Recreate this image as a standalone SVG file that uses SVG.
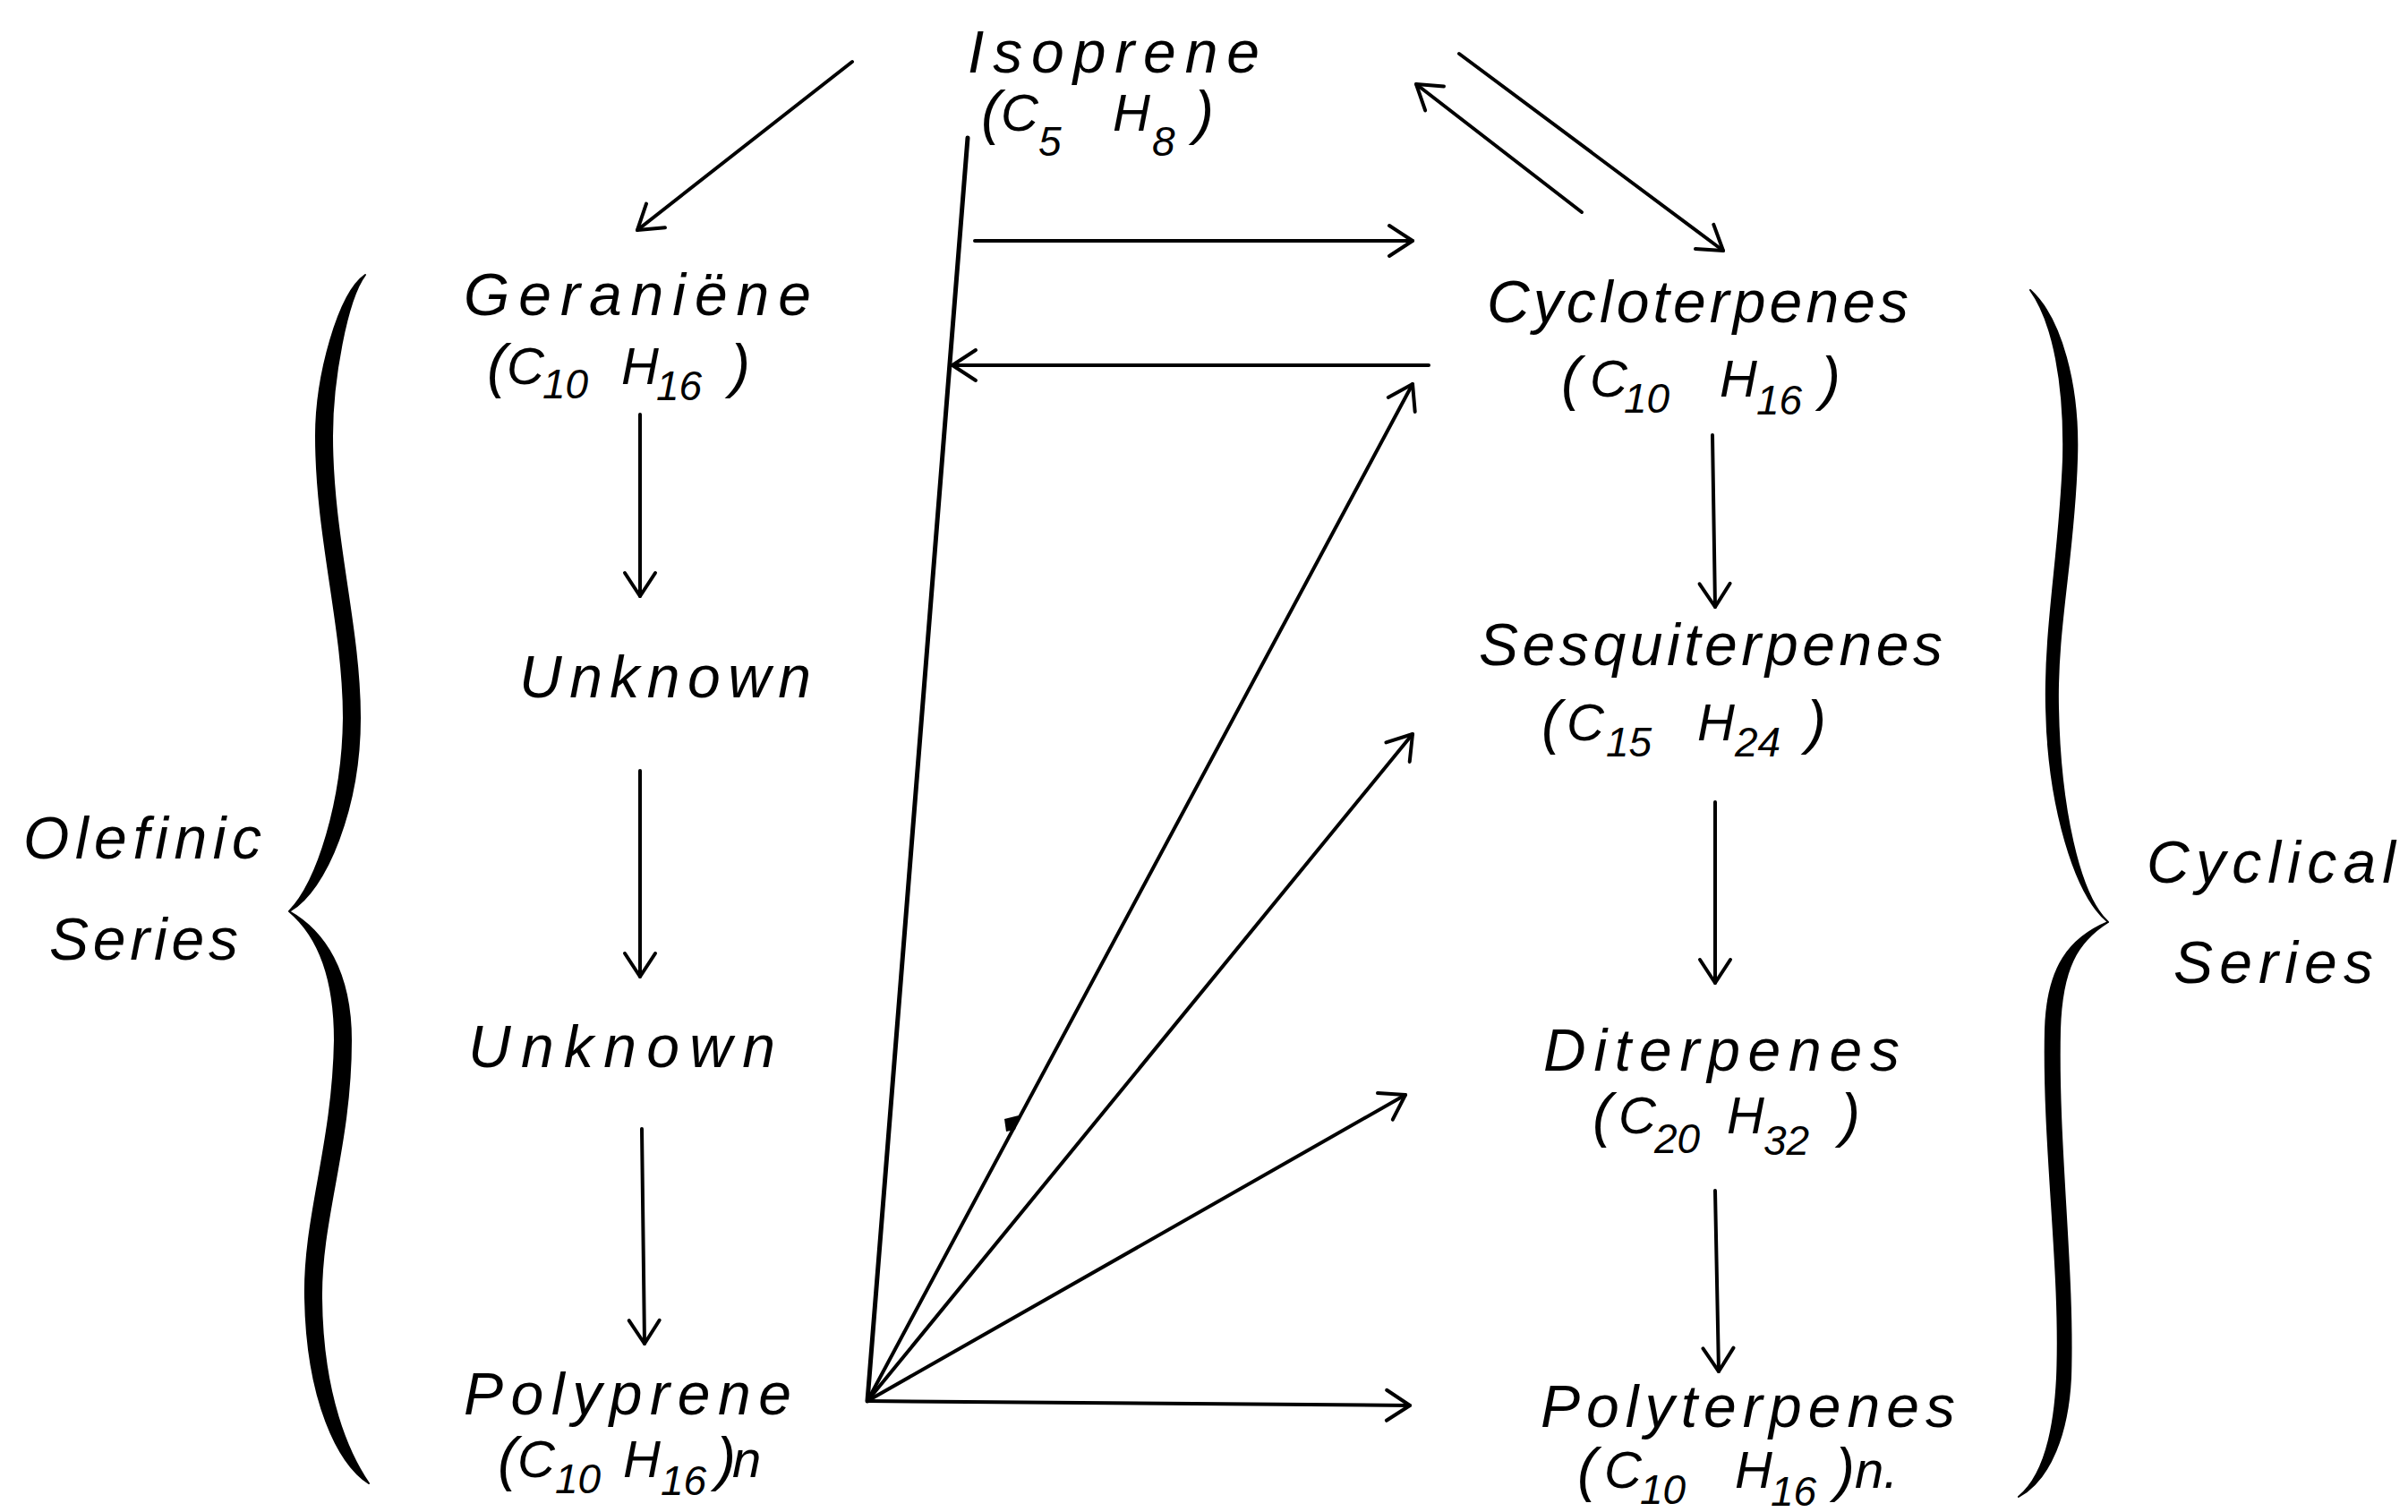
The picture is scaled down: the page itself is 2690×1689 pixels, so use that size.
<svg xmlns="http://www.w3.org/2000/svg" width="2690" height="1689" viewBox="0 0 2690 1689">
<style>
.lbl{font-family:"Liberation Sans","DejaVu Sans",sans-serif;font-style:italic;font-size:66px;fill:#000}
.f{font-size:58px}
.sub{font-size:46px}
.par{font-size:66px}
.ln{stroke:#000;stroke-width:4;fill:none;stroke-linecap:round}
.brace{fill:#000;stroke:#000;stroke-width:2;stroke-linejoin:round}
</style>
<defs>
<marker id="arr" markerUnits="userSpaceOnUse" viewBox="-40 -30 50 60" markerWidth="50" markerHeight="60" refX="0" refY="0" orient="auto">
<path d="M-26,-17 L0,0 L-26,17" fill="none" stroke="#000" stroke-width="4" stroke-linecap="round" stroke-linejoin="round"/>
</marker>
</defs>
<rect width="2690" height="1689" fill="#fff"/>

<g id="connectors">
<line class="ln" x1="952" y1="69" x2="712" y2="257" marker-end="url(#arr)"/>
<line class="ln" x1="1081" y1="154" x2="969" y2="1565" style="stroke-width:5"/>
<line class="ln" x1="1089" y1="269" x2="1578" y2="269" marker-end="url(#arr)"/>
<line class="ln" x1="1596" y1="408" x2="1064" y2="408" marker-end="url(#arr)"/>
<line class="ln" x1="1767" y1="237" x2="1582" y2="94" marker-end="url(#arr)"/>
<line class="ln" x1="1630" y1="60" x2="1925" y2="280" marker-end="url(#arr)"/>
<line class="ln" x1="969" y1="1565" x2="1578" y2="429" marker-end="url(#arr)"/>
<polygon points="1122,1250 1138,1246 1134,1262 1124,1264" fill="#000"/>
<line class="ln" x1="969" y1="1565" x2="1578" y2="820" marker-end="url(#arr)"/>
<line class="ln" x1="969" y1="1565" x2="1570" y2="1223" marker-end="url(#arr)"/>
<line class="ln" x1="969" y1="1565" x2="1575" y2="1570" marker-end="url(#arr)"/>
<line class="ln" x1="715" y1="463" x2="715" y2="666" marker-end="url(#arr)"/>
<line class="ln" x1="715" y1="861" x2="715" y2="1091" marker-end="url(#arr)"/>
<line class="ln" x1="717" y1="1261" x2="720" y2="1501" marker-end="url(#arr)"/>
<line class="ln" x1="1913" y1="486" x2="1916" y2="678" marker-end="url(#arr)"/>
<line class="ln" x1="1916" y1="896" x2="1916" y2="1098" marker-end="url(#arr)"/>
<line class="ln" x1="1916" y1="1330" x2="1920" y2="1532" marker-end="url(#arr)"/>
</g>

<g id="brace-left">
<path class="brace" d="M408,307 C378,328 353,420 353,487 C353,600 384,700 384,802 C383,895 355,985 323,1018 C355,1045 374,1090 374,1162 C372,1280 339,1360 341,1450 C343,1565 378,1635 412,1657 C390,1625 360,1560 359,1450 C358,1360 392,1280 392,1162 C392,1085 362,1040 323,1018 C365,995 402,900 402,802 C402,700 371,600 371,487 C371,425 387,335 408,307 Z"/>
</g>
<g id="brace-right">
<path class="brace" d="M2268,324 C2294,360 2307,430 2305,513 C2301,620 2284,700 2286,790 C2288,900 2318,1000 2355,1030 C2312,1048 2287,1080 2285,1150 C2282,1280 2303,1420 2298,1539 C2295,1600 2282,1650 2255,1672 C2291,1652 2310,1600 2313,1539 C2317,1420 2298,1280 2301,1150 C2303,1082 2320,1052 2355,1030 C2322,1000 2301,900 2299,790 C2297,700 2317,620 2320,513 C2323,430 2302,355 2268,324 Z"/>
</g>

<g id="isoprene">
<text class="lbl" x="1081" y="81" textLength="326" lengthAdjust="spacing">Isoprene</text>
<text class="lbl f"><tspan class="par" x="1096" y="148">(</tspan><tspan x="1118" y="146">C</tspan><tspan class="sub" x="1160" y="174">5</tspan><tspan x="1243" y="146">H</tspan><tspan class="sub" x="1287" y="174">8</tspan><tspan class="par" x="1334" y="148">)</tspan></text>
</g>

<g id="geraniene">
<text class="lbl" x="518" y="352" textLength="388" lengthAdjust="spacing">Geraniëne</text>
<text class="lbl f"><tspan class="par" x="544" y="431">(</tspan><tspan x="566" y="429">C</tspan><tspan class="sub" x="606" y="445">10</tspan><tspan x="694" y="429">H</tspan><tspan class="sub" x="733" y="447">16</tspan><tspan class="par" x="816" y="431">)</tspan></text>
</g>

<g id="unknown1">
<text class="lbl" x="580" y="779" textLength="326" lengthAdjust="spacing">Unknown</text>
</g>

<g id="unknown2">
<text class="lbl" x="523" y="1192" textLength="343" lengthAdjust="spacing">Unknown</text>
</g>

<g id="polyprene">
<text class="lbl" x="518" y="1580" textLength="366" lengthAdjust="spacing">Polyprene</text>
<text class="lbl f"><tspan class="par" x="556" y="1652">(</tspan><tspan x="578" y="1650">C</tspan><tspan class="sub" x="620" y="1668">10</tspan><tspan x="696" y="1650">H</tspan><tspan class="sub" x="738" y="1670">16</tspan><tspan class="par" x="800" y="1652">)</tspan><tspan x="818" y="1650">n</tspan></text>
</g>

<g id="olefinic-series">
<text class="lbl" x="26" y="959" textLength="266" lengthAdjust="spacing">Olefinic</text>
<text class="lbl" x="55" y="1072" textLength="211" lengthAdjust="spacing">Series</text>
</g>

<g id="cycloterpenes">
<text class="lbl" x="1661" y="360" textLength="471" lengthAdjust="spacing">Cycloterpenes</text>
<text class="lbl f"><tspan class="par" x="1744" y="445">(</tspan><tspan x="1776" y="443">C</tspan><tspan class="sub" x="1814" y="461">10</tspan><tspan x="1921" y="443">H</tspan><tspan class="sub" x="1962" y="463">16</tspan><tspan class="par" x="2034" y="445">)</tspan></text>
</g>

<g id="sesquiterpenes">
<text class="lbl" x="1652" y="743" textLength="518" lengthAdjust="spacing">Sesquiterpenes</text>
<text class="lbl f"><tspan class="par" x="1722" y="829">(</tspan><tspan x="1750" y="827">C</tspan><tspan class="sub" x="1794" y="845">15</tspan><tspan x="1896" y="827">H</tspan><tspan class="sub" x="1938" y="845">24</tspan><tspan class="par" x="2018" y="829">)</tspan></text>
</g>

<g id="diterpenes">
<text class="lbl" x="1724" y="1196" textLength="398" lengthAdjust="spacing">Diterpenes</text>
<text class="lbl f"><tspan class="par" x="1779" y="1268">(</tspan><tspan x="1808" y="1266">C</tspan><tspan class="sub" x="1848" y="1288">20</tspan><tspan x="1929" y="1266">H</tspan><tspan class="sub" x="1970" y="1290">32</tspan><tspan class="par" x="2056" y="1268">)</tspan></text>
</g>

<g id="polyterpenes">
<text class="lbl" x="1721" y="1594" textLength="463" lengthAdjust="spacing">Polyterpenes</text>
<text class="lbl f"><tspan class="par" x="1762" y="1664">(</tspan><tspan x="1792" y="1662">C</tspan><tspan class="sub" x="1832" y="1680">10</tspan><tspan x="1938" y="1662">H</tspan><tspan class="sub" x="1978" y="1682">16</tspan><tspan class="par" x="2050" y="1664">)</tspan><tspan x="2072" y="1662">n.</tspan></text>
</g>

<g id="cyclical-series">
<text class="lbl" x="2398" y="986" textLength="278" lengthAdjust="spacing">Cyclical</text>
<text class="lbl" x="2428" y="1098" textLength="223" lengthAdjust="spacing">Series</text>
</g>
</svg>
